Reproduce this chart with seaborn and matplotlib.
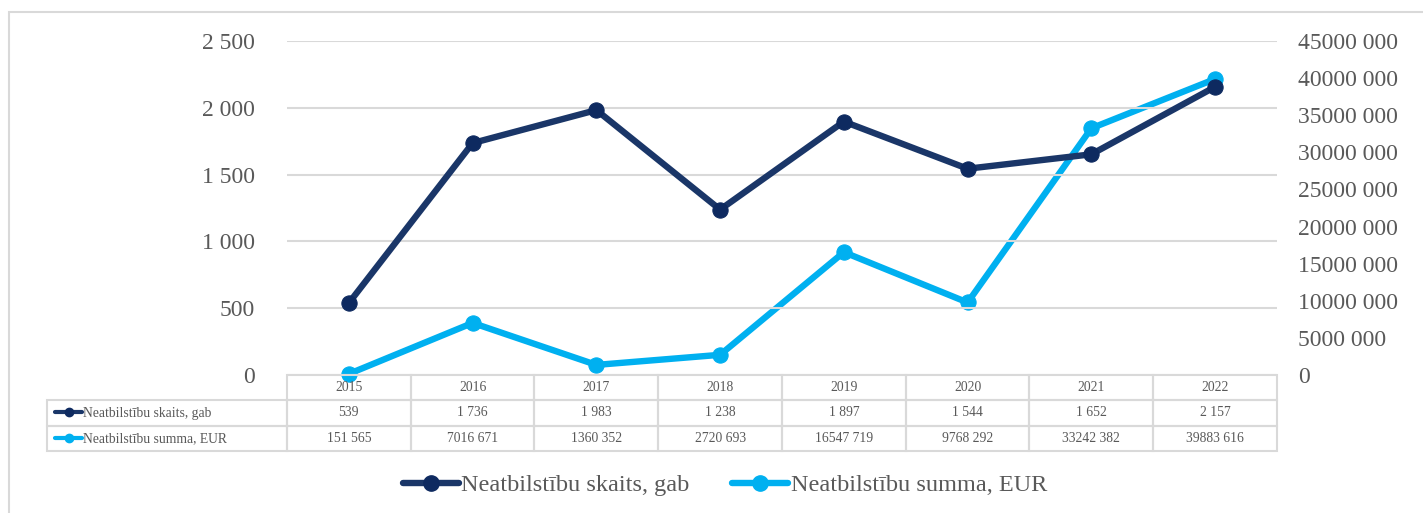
import numpy as np
import pandas as pd
import matplotlib
matplotlib.use("Agg")
import matplotlib.pyplot as plt
from matplotlib.lines import Line2D
from matplotlib.patches import Rectangle
from matplotlib.ticker import FuncFormatter, MultipleLocator
import seaborn as sns

years = ["2015", "2016", "2017", "2018", "2019", "2020", "2021", "2022"]
count_label = "Neatbilstību skaits, gab"
sum_label = "Neatbilstību summa, EUR"
counts = [539, 1736, 1983, 1238, 1897, 1544, 1652, 2157]
sums = [151565, 7016671, 1360352, 2720693, 16547719, 9768292, 33242382, 39883616]

DARK = "#1A3668"
DARK_MK = "#0E2A60"
LIGHT = "#00B0F0"
GRID = "#D9D9D9"
TXT = "#595959"

sns.set_theme(style="white")
plt.rcParams["font.family"] = ["Liberation Serif", "DejaVu Serif"]


def fmt(v):
    v = int(round(v))
    if v >= 1000:
        return f"{v // 1000} {v % 1000:03d}"
    return str(v)


W, H = 1423, 513
fig = plt.figure(figsize=(W / 100, H / 100), dpi=100)
fig.patch.set_facecolor("white")
fig.patches.append(Rectangle((9 / W, -0.1), 1.2, 1 - 12 / H + 0.1, transform=fig.transFigure,
                             fill=False, edgecolor=GRID, linewidth=1.5))

L, R = 287 / W, 1277 / W
B, T = 1 - 375 / H, 1 - 41 / H
ax = fig.add_axes([L, B, R - L, T - B])
ax2 = ax.twinx()

df = pd.DataFrame({"year": years, "count": counts, "sum": sums})

sns.lineplot(data=df, x="year", y="count", ax=ax, color=DARK, linewidth=4.6,
             marker="o", markersize=11, markerfacecolor=DARK_MK, markeredgecolor=DARK_MK,
             sort=False, clip_on=False, zorder=3)
sns.lineplot(data=df, x="year", y="sum", ax=ax2, color=LIGHT, linewidth=4.6,
             marker="o", markersize=11, markerfacecolor=LIGHT, markeredgecolor=LIGHT,
             sort=False, clip_on=False, zorder=3)

for a in (ax, ax2):
    a.set_xlim(-0.5, len(years) - 0.5)
    a.set_xlabel("")
    a.set_ylabel("")
    for s in a.spines.values():
        s.set_visible(False)
    a.set_xticks([])
    a.set_facecolor("none")

ax.set_ylim(0, 2500)
ax.yaxis.set_major_locator(MultipleLocator(500))
ax.yaxis.set_major_formatter(FuncFormatter(lambda v, p: fmt(v)))
ax.grid(axis="y", color=GRID, linewidth=1.5)
ax.grid(axis="x", visible=False)
ax.tick_params(axis="y", left=False, length=0, labelsize=17, labelcolor=TXT, pad=23)

ax2.set_ylim(0, 45e6)
ax2.yaxis.set_major_locator(MultipleLocator(5e6))
ax2.yaxis.set_major_formatter(FuncFormatter(lambda v, p: fmt(v)))
ax2.grid(False)
ax2.tick_params(axis="y", right=False, length=0, labelsize=17, labelcolor=TXT, pad=15)
ax.set_zorder(ax2.get_zorder() + 1)

# data table
axh = 375 - 41
tab_h = (451 - 375) / axh
lab_w = (287 - 47) / 990
cell_text = [[fmt(v) for v in counts], [fmt(v) for v in sums]]
tbl = ax.table(cellText=cell_text, colLabels=years, rowLabels=[count_label, sum_label],
               cellLoc="center", rowLoc="left", colWidths=[1 / len(years)] * len(years),
               bbox=[0, -tab_h, 1, tab_h])
tbl._autoColumns = []
tbl.auto_set_font_size(False)
for (r, c), cell in tbl.get_celld().items():
    cell.set_edgecolor(GRID)
    cell.set_linewidth(1.5)
    cell.set_facecolor("none")
    cell.get_text().set_color(TXT)
    cell.get_text().set_fontsize(9.8)
    if c == -1:
        cell.set_width(lab_w)
        cell.PAD = 0.15

# legend glyphs in table rows
gx0, gx1 = (55 - 287) / 990, (82 - 287) / 990
for yy_px, col, mk in [(411.5, DARK, DARK_MK), (437.5, LIGHT, LIGHT)]:
    yy = (375 - yy_px) / axh
    ax.add_line(Line2D([gx0, gx1], [yy, yy], transform=ax.transAxes, color=col, linewidth=3,
                       solid_capstyle="round", clip_on=False, zorder=5))
    ax.add_line(Line2D([(gx0 + gx1) / 2], [yy], transform=ax.transAxes, marker="o", markersize=6,
                       color=mk, linestyle="none", clip_on=False, zorder=6))

handles = [
    Line2D([], [], color=DARK, linewidth=4.6, marker="o", markersize=11,
           markerfacecolor=DARK_MK, markeredgecolor=DARK_MK, solid_capstyle="round"),
    Line2D([], [], color=LIGHT, linewidth=4.6, marker="o", markersize=11,
           markerfacecolor=LIGHT, markeredgecolor=LIGHT, solid_capstyle="round"),
]
leg = fig.legend(handles, [count_label, sum_label], loc="center", ncol=2,
                 bbox_to_anchor=(725 / W, 1 - 485 / H), frameon=False, fontsize=17.5,
                 handlelength=2.3, handletextpad=0.1, columnspacing=1.75,
                 borderpad=0, borderaxespad=0)
for t in leg.get_texts():
    t.set_color(TXT)

fig.savefig("out.png", dpi=100, facecolor="white")
